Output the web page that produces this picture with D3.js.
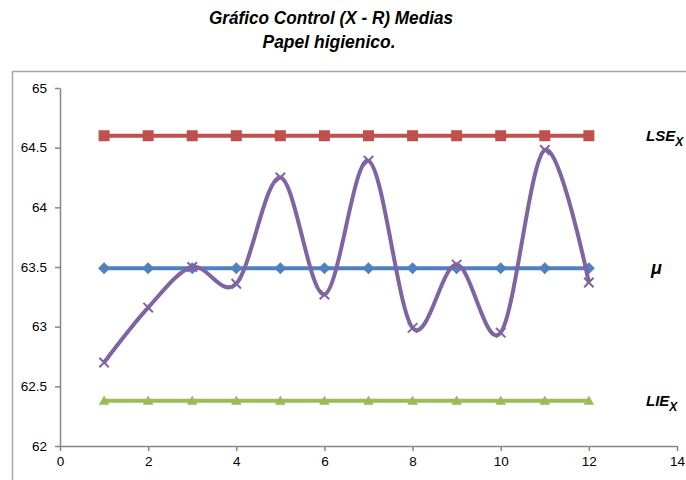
<!DOCTYPE html>
<html>
<head>
<meta charset="utf-8">
<script src="https://cdn.jsdelivr.net/npm/d3@7"></script>
<style>
  body { margin: 0; background: #fff; }
  text { font-family: "Liberation Sans", Arial, sans-serif; }
</style>
</head>
<body>
<svg id="chart" width="686" height="480"></svg>
<script>
// muestras 1..12
const samples = [1, 2, 3, 4, 5, 6, 7, 8, 9, 10, 11, 12];
const medias = [62.70, 63.16, 63.50, 63.36, 64.25, 63.27, 64.39, 62.99, 63.52, 62.95, 64.48, 63.37];
const lse = 64.6;
const mu = 63.49;
const lie = 62.38;
const xTicks = [0, 2, 4, 6, 8, 10, 12, 14];
const yTicks = [62, 62.5, 63, 63.5, 64, 64.5, 65];

const svg = d3.select('#chart');
const margin = { left: 60, right: 9, top: 88, bottom: 34 };
const width = 686, height = 480;

const x = d3.scaleLinear().domain([0, 14]).range([margin.left, width - margin.right]);
const y = d3.scaleLinear().domain([62, 65]).range([height - margin.bottom, margin.top]);

// chart border
svg.append('rect')
  .attr('x', 12.5).attr('y', 71.5)
  .attr('width', 700).attr('height', 450)
  .attr('fill', 'none').attr('stroke', '#a6a6a6').attr('stroke-width', 1.5);

// titles (narrow look via textLength)
svg.append('text').attr('x', 331).attr('y', 24)
  .attr('text-anchor', 'middle').attr('font-size', 18.5).attr('font-weight', 'bold').attr('font-style', 'italic')
  .attr('textLength', 244).attr('lengthAdjust', 'spacingAndGlyphs')
  .text('Gráfico Control (X - R) Medias');
svg.append('text').attr('x', 329).attr('y', 48)
  .attr('text-anchor', 'middle').attr('font-size', 18.5).attr('font-weight', 'bold').attr('font-style', 'italic')
  .attr('textLength', 133).attr('lengthAdjust', 'spacingAndGlyphs')
  .text('Papel higienico.');

// axes
const yAxis = svg.append('g')
  .attr('transform', `translate(${margin.left},0)`)
  .call(d3.axisLeft(y).tickValues(yTicks).tickSize(5).tickSizeOuter(0).tickFormat(d3.format('')));
const xAxis = svg.append('g')
  .attr('transform', `translate(0,${height - margin.bottom})`)
  .call(d3.axisBottom(x).tickValues(xTicks).tickSize(5).tickSizeOuter(0));

[xAxis, yAxis].forEach(a => {
  a.select('.domain').attr('stroke', '#868686').attr('stroke-width', 1.5);
  a.selectAll('.tick line').attr('stroke', '#868686').attr('stroke-width', 1.5);
  a.selectAll('.tick text').attr('font-size', 13.5).attr('fill', '#000')
    .style('font-family', '"Liberation Sans", Arial, sans-serif');
});
yAxis.selectAll('.tick text').attr('x', -13);
xAxis.selectAll('.tick text').attr('y', 10);

const straight = d3.line().x(d => x(d[0])).y(d => y(d[1]));

function flatSeries(val, color) {
  const pts = samples.map(s => [s, val]);
  svg.append('path').attr('d', straight(pts))
    .attr('fill', 'none').attr('stroke', color).attr('stroke-width', 4);
  return pts;
}

// LSE
const lsePts = flatSeries(lse, '#C0504D');
svg.append('g').selectAll('rect').data(lsePts).join('rect')
  .attr('x', d => x(d[0]) - 5.5).attr('y', d => y(d[1]) - 5.5)
  .attr('width', 11).attr('height', 11).attr('fill', '#C0504D');

// mu
const muPts = flatSeries(mu, '#4F81BD');
svg.append('g').selectAll('path').data(muPts).join('path')
  .attr('d', d3.symbol(d3.symbolDiamond2, 90))
  .attr('transform', d => `translate(${x(d[0])},${y(d[1])})`)
  .attr('fill', '#4F81BD');

// LIE
const liePts = flatSeries(lie, '#9BBB59');
svg.append('g').selectAll('path').data(liePts).join('path')
  .attr('d', d3.symbol(d3.symbolTriangle2, 80))
  .attr('transform', d => `translate(${x(d[0])},${y(d[1]) + 1})`)
  .attr('fill', '#9BBB59');

// medias, smoothed
const medPts = samples.map((s, i) => [s, medias[i]]);
svg.append('path')
  .attr('d', d3.line().x(d => x(d[0])).y(d => y(d[1])).curve(d3.curveCardinal.tension(0))(medPts))
  .attr('fill', 'none').attr('stroke', '#8064A2').attr('stroke-width', 4);
svg.append('g').selectAll('path').data(medPts).join('path')
  .attr('d', d3.symbol(d3.symbolTimes, 60))
  .attr('transform', d => `translate(${x(d[0])},${y(d[1])})`)
  .attr('fill', 'none').attr('stroke', '#8064A2').attr('stroke-width', 2);

// right-side labels
function sideLabel(txt, sub, yy) {
  const t = svg.append('text').attr('x', 646).attr('y', yy)
    .attr('font-size', 15).attr('font-weight', 'bold').attr('font-style', 'italic');
  t.append('tspan').text(txt);
  if (sub) t.append('tspan').attr('dy', 5).attr('font-size', 12).text(sub);
}
sideLabel('LSE', 'X', y(lse) + 5);
sideLabel('LIE', 'X', y(lie) + 5);
svg.append('text').attr('x', 651).attr('y', y(mu) + 6)
  .attr('font-size', 18).attr('font-weight', 'bold').attr('font-style', 'italic')
  .text('μ');
</script>
</body>
</html>
